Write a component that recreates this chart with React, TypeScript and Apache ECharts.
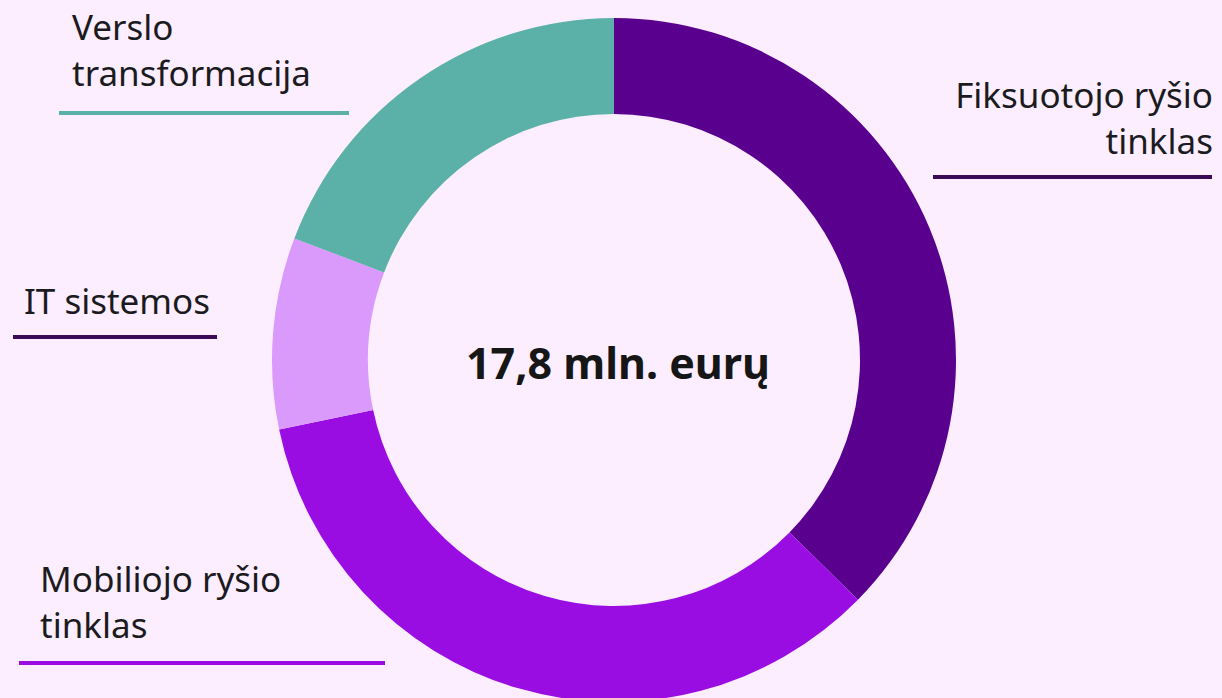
import React, { useEffect, useRef } from "react";
import * as echarts from "echarts";

const categories = [
  "Fiksuotojo ryšio tinklas",
  "Mobiliojo ryšio tinklas",
  "IT sistemos",
  "Verslo transformacija",
];
const labelTexts = [
  "Fiksuotojo ryšio\ntinklas",
  "Mobiliojo ryšio\ntinklas",
  "IT sistemos",
  "Verslo\ntransformacija",
];
const values = [6.65, 6.12, 1.61, 3.42];
const colors = ["#5A008F", "#990CE2", "#DA9AFB", "#5BB0A8"];
const totalLabel = "17,8 mln. eurų";

const BG = "#FCEEFE";
const FONT = "'Noto Sans', sans-serif";

export default function App() {
  const ref = useRef<HTMLDivElement>(null);
  useEffect(() => {
    document.body.style.margin = "0";
    document.body.style.background = BG;
    if (!ref.current) return;
    const chart = echarts.init(ref.current, null, { renderer: "svg" });

    const labelPos = [
      { x: 1213, y: 71, align: "right", line: [933, 1212, 177], stroke: "#3B0A57" },
      { x: 40, y: 555, align: "left", line: [19, 385, 663], stroke: "#990CE2" },
      { x: 24, y: 277, align: "left", line: [13, 217, 337], stroke: "#3B0A57" },
      { x: 72, y: 3, align: "left", line: [59, 349, 113], stroke: "#5BB0A8" },
    ];

    const graphics: any[] = [];
    labelTexts.forEach((t, i) => {
      const p = labelPos[i];
      graphics.push({
        type: "text",
        x: p.x,
        y: p.y,
        style: {
          text: t,
          font: `400 35px ${FONT}`,
          fill: "#1B1B1F",
          textAlign: p.align,
          textVerticalAlign: "top",
          lineHeight: 46,
        },
      });
      graphics.push({
        type: "line",
        shape: { x1: p.line[0], y1: p.line[2], x2: p.line[1], y2: p.line[2] },
        style: { stroke: p.stroke, lineWidth: 4 },
      });
    });
    graphics.push({
      type: "text",
      x: 618,
      y: 362,
      style: {
        text: totalLabel,
        font: `700 43px ${FONT}`,
        fill: "#161616",
        textAlign: "center",
        textVerticalAlign: "middle",
      },
    });

    chart.setOption({
      animation: false,
      backgroundColor: BG,
      graphic: graphics,
      series: [
        {
          type: "pie",
          center: [614, 360],
          radius: [246, 342],
          startAngle: 90,
          clockwise: true,
          label: { show: false },
          labelLine: { show: false },
          silent: true,
          itemStyle: { borderWidth: 0 },
          data: categories.map((c, i) => ({
            name: c,
            value: values[i],
            itemStyle: { color: colors[i] },
          })),
        },
      ],
    });
    return () => chart.dispose();
  }, []);
  return <div ref={ref} style={{ width: 1222, height: 698 }} />;
}
